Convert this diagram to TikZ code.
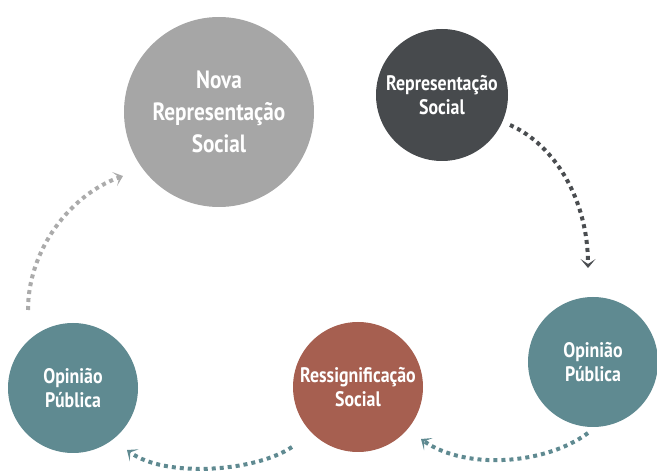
\documentclass[tikz,border=0pt]{standalone}
\usepackage{fontspec}
\setmainfont{PT Sans}[FakeStretch=0.85]
\usetikzlibrary{arrows.meta}
\definecolor{grayc}{HTML}{A6A6A6}
\definecolor{darkc}{HTML}{474A4D}
\definecolor{tealc}{HTML}{5F8A91}
\definecolor{brownc}{HTML}{A65F50}
\definecolor{grayarrow}{HTML}{ABABAB}
\definecolor{darkarrow}{HTML}{4A4D50}
\begin{document}
\begin{tikzpicture}[x=1pt,y=-1pt,
  bubble/.style={circle, inner sep=0pt, text=white, align=center,
    font=\bfseries\fontsize{21}{24}\selectfont},
  flow/.style={line width=4pt, dash pattern=on 4pt off 4pt,
    -{Stealth[length=9pt,width=15pt,inset=5pt,line width=0pt]}}]
\useasboundingbox (0,0) rectangle (657,473);
\node[bubble, fill=grayc, minimum size=190pt,
  font=\bfseries\fontsize{25}{32}\selectfont] (nova) at (219,112)
  {Nova\\Representação\\Social};
\node[bubble, fill=darkc, minimum size=132pt] (rep) at (442,95)
  {Representação\\Social};
\node[bubble, fill=tealc, minimum size=130pt] (op1) at (593,362)
  {Opinião\\Pública};
\node[bubble, fill=brownc, minimum size=130pt] (res) at (358,387)
  {Ressignificação\\Social};
\node[bubble, fill=tealc, minimum size=130pt] (op2) at (73,388)
  {Opinião\\Pública};
\coordinate (a1s) at (510,125);
\coordinate (a1e) at (588,268);
\coordinate (a2s) at (588,433);
\coordinate (a2e) at (421,439);
\coordinate (a3s) at (292,447);
\coordinate (a3e) at (127,450);
\coordinate (a4s) at (28,310);
\coordinate (a4e) at (123,176);
\draw[flow, darkarrow] (a1s) .. controls (555,145) and (588,200) .. (a1e);
\draw[flow, tealc] (a2s) .. controls (545,465) and (465,470) .. (a2e);
\draw[flow, tealc] (a3s) .. controls (255,472) and (165,478) .. (a3e);
\draw[flow, grayarrow] (a4s) .. controls (28,250) and (70,195) .. (a4e);
\end{tikzpicture}
\end{document}
